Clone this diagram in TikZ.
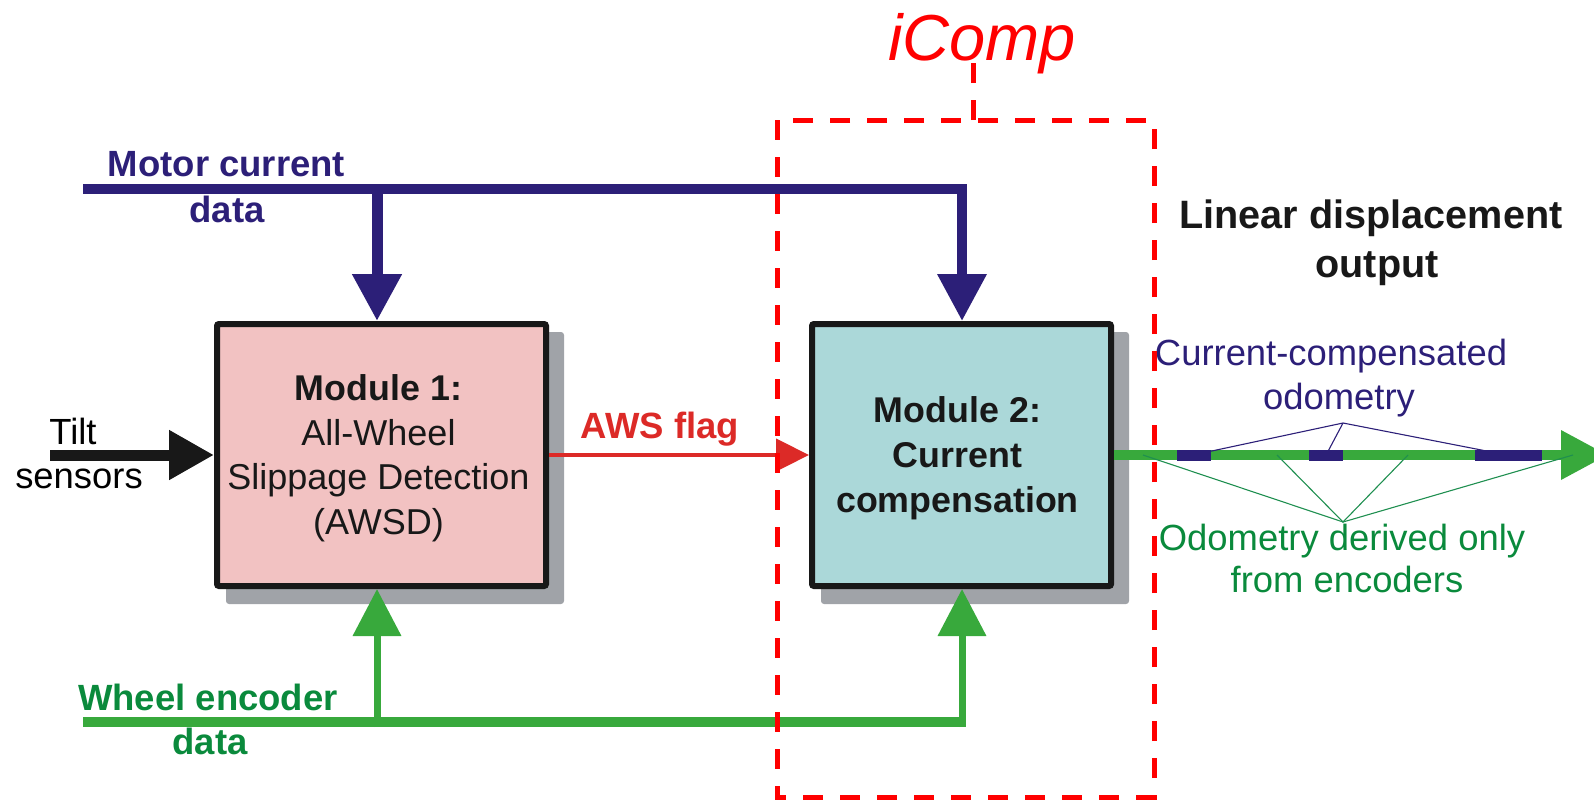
\documentclass[tikz,border=0pt]{standalone}
\usepackage{fontspec}
\setmainfont{Liberation Sans}
\usetikzlibrary{arrows.meta}
\definecolor{navy}{HTML}{2C1F78}
\definecolor{gline}{HTML}{38A93C}
\definecolor{gtext}{HTML}{0A8A3C}
\definecolor{awsred}{HTML}{DC2A27}
\definecolor{pinkfill}{HTML}{F2C2C2}
\definecolor{tealfill}{HTML}{ABD8D9}
\definecolor{shadowgray}{HTML}{A0A3A8}
\definecolor{boxline}{HTML}{181818}
\definecolor{thingreen}{HTML}{1F8F50}
\definecolor{pureRed}{HTML}{FF0000}
\pgfdeclarelayer{bg}
\pgfsetlayers{bg,main}
\begin{document}
\begin{tikzpicture}[x=1pt,y=-1pt,
  modbox/.style={draw=boxline, line width=6pt, rounded corners=2pt,
    minimum height=262pt, inner sep=0pt},
  boxtext/.style={align=center, inner sep=0pt, text=boxline,
    font=\fontsize{36}{44.5}\selectfont},
  lbl/.style={anchor=base, inner sep=0pt, font=\fontsize{36.4}{44}\selectfont},
  blbl/.style={anchor=base, inner sep=0pt, font=\fontsize{36.5}{44}\selectfont\bfseries},
  shadowbox/.style={fill=shadowgray, rounded corners=3pt},
  bigtip/.style={-{Triangle[length=47pt,width=47pt]}},
  navybus/.style={draw=navy, line width=10pt},
  greenbus/.style={draw=gline, line width=10pt},
  greenup/.style={draw=gline, line width=7pt, bigtip},
  icompline/.style={draw=pureRed, line width=5pt, dash pattern=on 20pt off 17pt},
  thinnavy/.style={draw=navy, line width=1.1pt},
  thingreen/.style={draw=thingreen, line width=1.1pt},
]
\useasboundingbox (0,0) rectangle (1594,801);
\clip (0,0) rectangle (1594,801);

% module boxes
\node[modbox, fill=pinkfill, minimum width=329pt] (box1) at (381.5,455) {};
\node[modbox, fill=tealfill, minimum width=299pt] (box2) at (961.5,455) {};
\node[boxtext] (box1text) at ([xshift=-3pt,yshift=-3pt]box1.center)
  {{\fontsize{35.8}{44.5}\selectfont\bfseries Module 1:}\\All-Wheel\\Slippage Detection\\(AWSD)};
\node[boxtext, font=\fontsize{35.8}{45}\selectfont\bfseries] (box2text) at ([xshift=-4pt,yshift=-3pt]box2.center)
  {Module 2:\\Current\\compensation};

\begin{pgfonlayer}{bg}
  \fill[shadowbox] ([shift={(12,11)}]box1.north west) rectangle ([shift={(15,15)}]box1.south east);
  \fill[shadowbox] ([shift={(12,11)}]box2.north west) rectangle ([shift={(15,15)}]box2.south east);
\end{pgfonlayer}

% motor current bus
\coordinate (mstart) at (83,189);
\coordinate (mj1) at (377,189);
\coordinate (mcorner) at (962,189);
\draw[navybus] (mstart) -- (mcorner);
\draw[navybus, line width=11pt, bigtip] (mj1) -- (mj1 |- box1.north);
\draw[navybus, bigtip] ([xshift=-5pt]mcorner) -- (mcorner) -- (mcorner |- box2.north);
\node[blbl, text=navy] (mlbl1) at (226.5,176) {Motor current};
\node[blbl, text=navy] (mlbl2) at (227,222) {data};

% wheel encoder bus
\coordinate (wstart) at (83,722);
\coordinate (wj1) at (377,722);
\coordinate (wcorner) at (962,722);
\draw[greenbus] (wstart) -- ([xshift=3.5pt]wcorner);
\draw[greenup] ([yshift=-5pt]wj1) -- (wj1 |- box1.south);
\draw[greenup] ([yshift=-5pt]wcorner) -- (wcorner |- box2.south);
\node[blbl, text=gtext] (wlbl1) at (208,710) {Wheel encoder};
\node[blbl, text=gtext] (wlbl2) at (210,754) {data};

% tilt sensors
\coordinate (tstart) at (50,455);
\draw[draw=boxline, line width=11pt, -{Triangle[length=45pt,width=47pt]}] (tstart) -- (box1.west);
\node[lbl, text=black] (tilt1) at (73,444) {Tilt};
\node[lbl, text=black] (tilt2) at (79,488) {sensors};

% AWS flag
\draw[draw=awsred, line width=4.5pt, -{Triangle[length=33pt,width=32pt]}] (box1.east) -- (box2.west);
\node[blbl, text=awsred] (aws) at (660,438) {AWS flag};

% output
\coordinate (oend) at (1608,455);
\draw[greenbus, bigtip] (box2.east) -- (oend);
\coordinate (s1a) at (1177,455); \coordinate (s1b) at (1211,455);
\coordinate (s2a) at (1309,455); \coordinate (s2b) at (1343,455);
\coordinate (s3a) at (1475,455); \coordinate (s3b) at (1542,455);
\draw[navybus, line width=11pt] (s1a) -- (s1b);
\draw[navybus, line width=11pt] (s2a) -- (s2b);
\draw[navybus, line width=11pt] (s3a) -- (s3b);

\node[anchor=base, inner sep=0pt, text=boxline, font=\fontsize{39.6}{46}\selectfont\bfseries] (lin1) at (1371,228) {Linear displacement};
\node[anchor=base, inner sep=0pt, text=boxline, font=\fontsize{39.6}{46}\selectfont\bfseries] (lin2) at (1377,277) {output};

\node[lbl, text=navy] (cc1) at (1331,365) {Current-compensated};
\node[lbl, text=navy] (cc2) at (1339,409) {odometry};
\node[lbl, text=gtext] (od1) at (1342,550) {Odometry derived only};
\node[lbl, text=gtext] (od2) at (1347,592) {from encoders};

\coordinate (ccfan) at (1343,423);
\coordinate (odfan) at (1343,522);
\coordinate (c1) at (1193,455);
\coordinate (c2) at (1325,457);
\coordinate (c3) at (1507,455);
\draw[thinnavy] (c1) -- (ccfan) -- (c3);
\draw[thinnavy] (ccfan) -- (c2);
\coordinate (e1) at (1143,455);
\coordinate (e2) at (1277,455);
\coordinate (e3) at (1408,455);
\coordinate (e4) at (1573,455);
\draw[thingreen] (e1) -- (odfan) -- (e4);
\draw[thingreen] (e2) -- (odfan) -- (e3);

% iComp dashed region
\draw[icompline] (777,120) rectangle (1154,797);
\node[anchor=base, inner sep=0pt, text=pureRed, font=\fontsize{65}{78}\selectfont\itshape] (icomp) at (982,60) {iComp};
\coordinate (itop) at (973,120);
\draw[icompline] (itop) -- (itop |- 0,62);
\end{tikzpicture}
\end{document}
